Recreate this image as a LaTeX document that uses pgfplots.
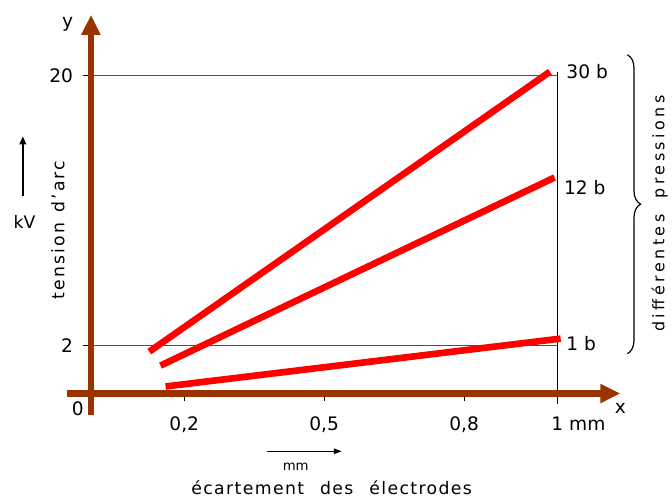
\documentclass[border=0pt]{standalone}
\usepackage{fontspec}
\setmainfont{DejaVu Sans}
\usepackage{pgfplots}
\pgfplotsset{compat=1.18}
\usetikzlibrary{arrows.meta,decorations.pathreplacing}
\definecolor{axbrown}{RGB}{153,51,0}
\definecolor{gridgray}{RGB}{80,80,80}
\begin{document}
\begin{tikzpicture}
\begin{axis}[
  scale only axis, width=398.6pt, height=285.1pt,
  xmin=0, xmax=1.135, ymin=-1.2, ymax=24.04,
  axis lines=left, axis line style={draw=none},
  clip=false,
  xtick={0.2,0.5,0.8,1},
  xticklabels={{0,2},{0,5},{0,8},{1\rlap{ mm}}},
  ytick={2,20}, yticklabels={2,20},
  tick align=outside, major tick length=6pt,
  tick style={black, line width=0.8pt},
  ticklabel style={font=\fontsize{14}{14}\selectfont},
  xticklabel shift=8pt,
  yticklabel shift=4pt,
]
% reference lines
\addplot[gridgray, line width=1.1pt] coordinates {(0,20) (1,20)};
\addplot[gridgray, line width=1.1pt] coordinates {(0,2) (1,2)};
\addplot[black, line width=1.1pt] coordinates {(1,20.25) (1,-1.9)};
% pressure lines
\addplot[red, line width=5pt] coordinates {(0.125,1.59) (0.984,20.25)};
\addplot[red, line width=5pt] coordinates {(0.149,0.66) (0.994,13.2)};
\addplot[red, line width=5pt] coordinates {(0.160,-0.73) (1.007,2.46)};
% axes
\draw[axbrown, line width=4.9pt, -{Triangle[length=15pt,width=13.5pt]}] (axis cs:-0.052,-1.2) -- (axis cs:1.135,-1.2);
\draw[axbrown, line width=4.9pt, -{Triangle[length=15pt,width=13.5pt]}] (axis cs:0,-2.66) -- (axis cs:0,24.04);
% labels
\node[font=\fontsize{14}{14}\selectfont] at (axis cs:-0.028,-2.19) {0};
\node[font=\fontsize{14}{14}\selectfont] at (axis cs:-0.05,23.4) {y};
\node[font=\fontsize{14}{14}\selectfont] at (axis cs:1.135,-2.19) {x};
\node[anchor=west, font=\fontsize{14}{14}\selectfont, inner sep=1pt] at (axis cs:1.016,20.25) {30 b};
\node[anchor=west, font=\fontsize{14}{14}\selectfont, inner sep=1pt] at (axis cs:1.011,12.55) {12 b};
\node[anchor=west, font=\fontsize{14}{14}\selectfont, inner sep=1pt] at (axis cs:1.016,2.12) {1 b};
\draw[black, line width=0.9pt, decorate, decoration={brace, amplitude=10pt}] (axis cs:1.15,21.38) -- (axis cs:1.15,1.46);
\node[rotate=90, font=\fontsize{12}{12}\selectfont\addfontfeature{LetterSpace=22}] at (axis cs:1.219,10.8) {différentes\kern 12pt pressions};
\node[rotate=90, font=\fontsize{13}{13}\selectfont\addfontfeature{LetterSpace=12}] at (axis cs:-0.071,9.7) {tension\kern 8pt d’arc};
\draw[black, line width=1.3pt, -{Triangle[length=6pt,width=5pt]}] (axis cs:-0.146,11.95) -- (axis cs:-0.146,15.94);
\node[font=\fontsize{13}{13}\selectfont] at (axis cs:-0.1425,10.23) {kV};
\draw[black, line width=1.1pt, -{Triangle[length=6pt,width=4pt]}] (axis cs:0.377,-5.05) -- (axis cs:0.538,-5.05);
\node[font=\fontsize{10}{10}\selectfont] at (axis cs:0.439,-6.11) {mm};
\node[font=\fontsize{13}{13}\selectfont\addfontfeature{LetterSpace=8}] at (axis cs:0.516,-7.5) {écartement\kern 12pt des\kern 12pt électrodes};
\path (axis cs:-0.195,-8.10) rectangle (axis cs:1.240,25.03);
\end{axis}
\end{tikzpicture}
\end{document}
